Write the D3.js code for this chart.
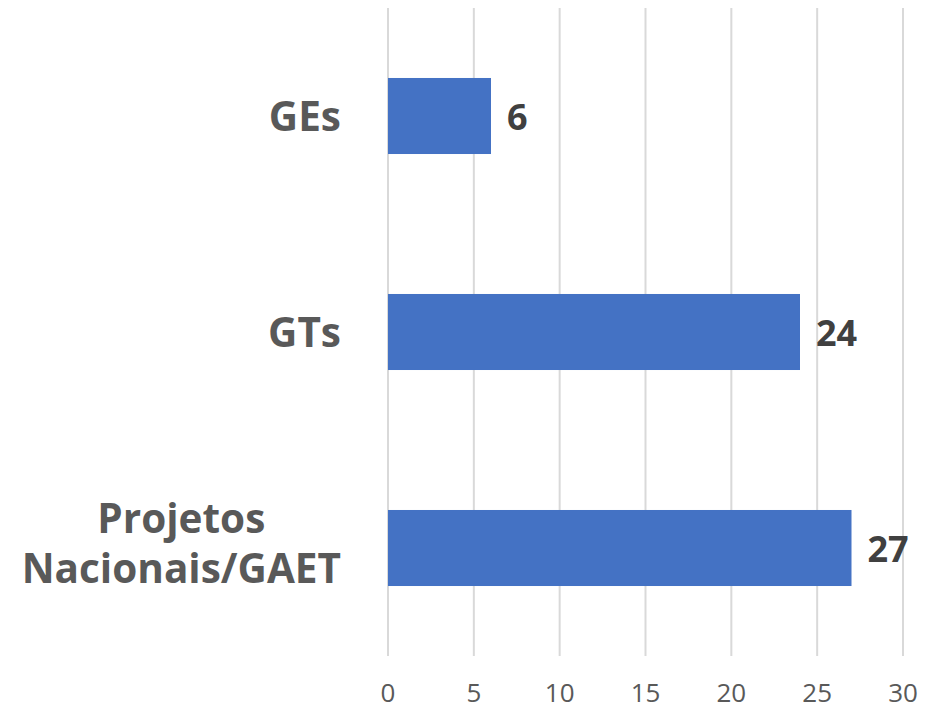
<!DOCTYPE html>
<html>
<head>
<meta charset="utf-8">
<script src="https://cdn.jsdelivr.net/npm/d3@7"></script>
<style>
  body { margin: 0; background: #fff; }
</style>
</head>
<body>
<div id="chart"></div>
<script>
// Chart data
const categories = ["GEs", "GTs", "Projetos Nacionais/GAET"];
const categoryLines = [["GEs"], ["GTs"], ["Projetos", "Nacionais/GAET"]];
const values = [6, 24, 27];
const ticks = [0, 5, 10, 15, 20, 25, 30];

const width = 935;
const height = 711;
const font = "'Open Sans', sans-serif";

const svg = d3.select("#chart").append("svg")
    .attr("width", width)
    .attr("height", height);

// Scales
const x = d3.scaleLinear()
    .domain([0, 30])
    .range([388, 903]);

const y = d3.scaleBand()
    .domain(categories)
    .range([8, 656])
    .paddingInner(0.648)
    .paddingOuter(0.324);

// Gridlines
svg.append("g")
    .selectAll("line")
    .data(ticks)
    .join("line")
    .attr("x1", d => x(d))
    .attr("x2", d => x(d))
    .attr("y1", 8)
    .attr("y2", 656)
    .attr("stroke", "#d9d9d9")
    .attr("stroke-width", 2);

// Tick labels
svg.append("g")
    .attr("font-family", font)
    .attr("font-size", 26)
    .attr("fill", "#595959")
    .attr("text-anchor", "middle")
    .selectAll("text")
    .data(ticks)
    .join("text")
    .attr("x", d => x(d))
    .attr("y", 693)
    .attr("dy", "0.36em")
    .text(d => d);

// Bars
svg.append("g")
    .selectAll("rect")
    .data(values)
    .join("rect")
    .attr("x", x(0))
    .attr("y", (d, i) => y(categories[i]))
    .attr("width", d => x(d) - x(0))
    .attr("height", y.bandwidth())
    .attr("fill", "#4472c4");

// Value labels
svg.append("g")
    .attr("font-family", font)
    .attr("font-size", 36)
    .attr("font-weight", "bold")
    .attr("fill", "#404040")
    .selectAll("text")
    .data(values)
    .join("text")
    .attr("x", d => x(d) + 16)
    .attr("y", (d, i) => y(categories[i]) + y.bandwidth() / 2 + 1)
    .attr("dy", "0.36em")
    .text(d => d);

// Category labels: lines centred on each other, block right-aligned
const lineGap = 50;
const labels = svg.append("g")
    .attr("font-family", font)
    .attr("font-size", 40.5)
    .attr("font-weight", "bold")
    .attr("fill", "#595959");

categoryLines.forEach((lines, i) => {
    const cy = y(categories[i]) + y.bandwidth() / 2 - (lines.length > 1 ? 5 : 0);
    const g = labels.append("g");
    const texts = g.selectAll("text")
        .data(lines)
        .join("text")
        .attr("text-anchor", "middle")
        .attr("y", (d, j) => cy + (j - (lines.length - 1) / 2) * lineGap)
        .attr("dy", "0.36em")
        .text(d => d);
    let maxW = 0;
    texts.each(function () { maxW = Math.max(maxW, this.getComputedTextLength()); });
    texts.attr("x", 341 - maxW / 2);
});
</script>
</body>
</html>
